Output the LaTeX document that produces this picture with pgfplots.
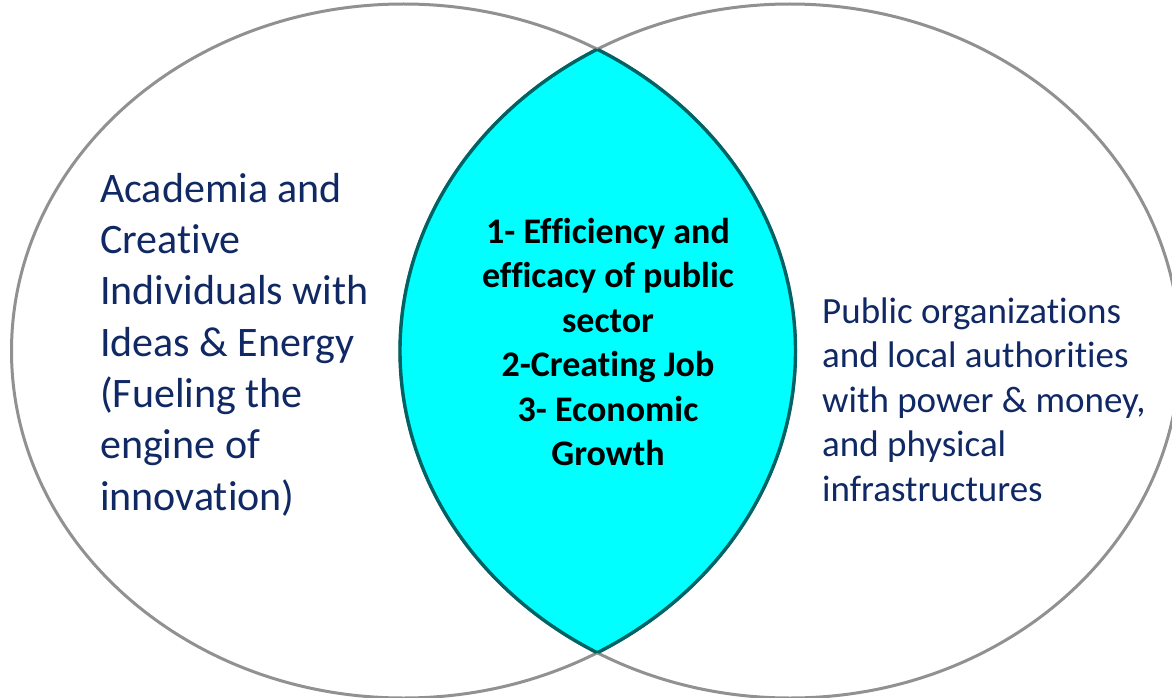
\documentclass[border=0pt]{standalone}
\usepackage{pgfplots}
\pgfplotsset{compat=1.18}
\usepackage{fontspec}
\setmainfont{Carlito}[Ligatures=NoCommon]
\definecolor{navy}{RGB}{16,40,100}
\definecolor{lensedge}{RGB}{0,98,98}
\definecolor{lensfill}{RGB}{0,255,255}
\definecolor{ringgray}{RGB}{145,145,145}
\begin{document}
\begin{tikzpicture}
\begin{axis}[
  x=1pt, y=1pt, scale only axis,
  xmin=0, xmax=1172, ymin=0, ymax=698, y dir=reverse,
  hide axis, clip=false]
% outer rings
\draw[ringgray, line width=3pt] (axis cs:403.5,351) ellipse [x radius=392, y radius=347];
\draw[ringgray, line width=3pt] (axis cs:790,351) ellipse [x radius=390, y radius=347];
% lens
\begin{scope}
  \clip (axis cs:403.5,351) ellipse [x radius=392, y radius=347];
  \fill[lensfill] (axis cs:790,351) ellipse [x radius=390, y radius=347];
  \draw[lensedge, line width=3.4pt] (axis cs:790,351) ellipse [x radius=390, y radius=347];
\end{scope}
\begin{scope}
  \clip (axis cs:790,351) ellipse [x radius=390, y radius=347];
  \draw[lensedge, line width=3.4pt] (axis cs:403.5,351) ellipse [x radius=392, y radius=347];
\end{scope}
% left text
\tikzset{lt/.style={anchor=base west, inner sep=0pt, text=navy, font=\fontsize{42}{50}\selectfont}}
\node[lt] at (axis cs:100,202) {Academia and};
\node[lt] at (axis cs:100,253.3) {Creative};
\node[lt] at (axis cs:100,304.6) {Individuals with};
\node[lt] at (axis cs:100,356) {Ideas \& Energy};
\node[lt] at (axis cs:100,407.3) {(Fueling the};
\node[lt] at (axis cs:100,458.6) {engine of};
\node[lt] at (axis cs:100,510) {innovation)};
% right text
\tikzset{rt/.style={anchor=base west, inner sep=0pt, text=navy, font=\fontsize{37}{44}\selectfont}}
\node[rt] at (axis cs:822,323) {Public organizations};
\node[rt] at (axis cs:822,367.5) {and local authorities};
\node[rt] at (axis cs:822,412) {with power \& money,};
\node[rt] at (axis cs:822,456.5) {and physical};
\node[rt] at (axis cs:822,501) {infrastructures};
% centre text
\tikzset{ct/.style={anchor=base, inner sep=0pt, text=black, font=\fontsize{36}{44}\selectfont\bfseries}}
\node[ct] at (axis cs:608,243) {1- Efficiency and};
\node[ct] at (axis cs:608,287.5) {efficacy of public};
\node[ct] at (axis cs:608,332) {sector};
\node[ct] at (axis cs:608,376.5) {2-Creating Job};
\node[ct] at (axis cs:608,421) {3- Economic};
\node[ct] at (axis cs:608,465.5) {Growth};
\end{axis}
\pgfresetboundingbox
\path (0,0) rectangle (1172pt,698pt);
\end{tikzpicture}
\end{document}
